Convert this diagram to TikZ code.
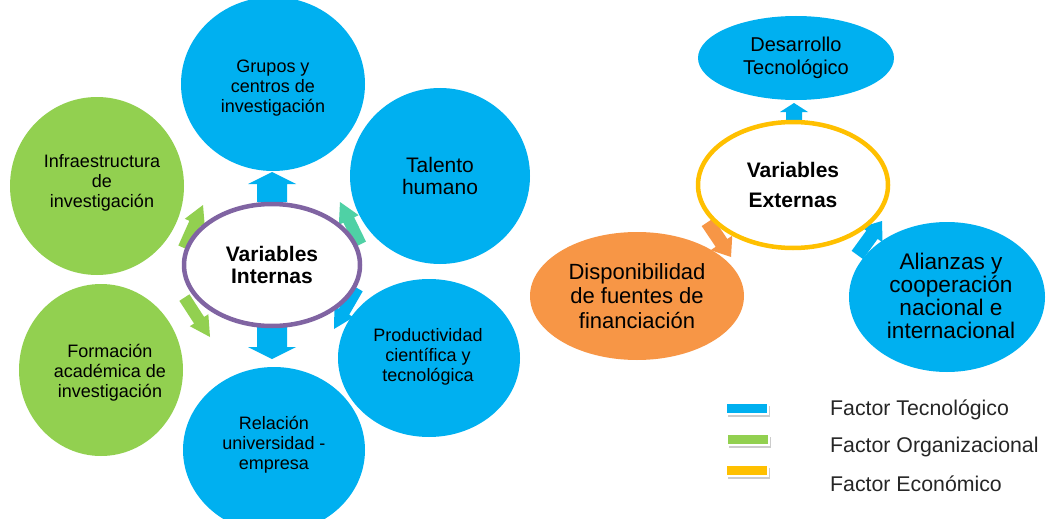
\documentclass[tikz,border=0pt]{standalone}
\usepackage{fontspec}
\setmainfont{Liberation Sans}
\usetikzlibrary{shapes.geometric,shadows}
\definecolor{cblue}{HTML}{00B0F0}
\definecolor{cgreen}{HTML}{92D050}
\definecolor{corange}{HTML}{F79646}
\definecolor{cyellow}{HTML}{FFC000}
\definecolor{cpurple}{HTML}{8064A2}
\definecolor{cteal}{HTML}{4FD1A5}
% color, tip x, tip y, angle, length, shaft half width, head length, head half width
\newcommand\barrow[8]{\fill[#1,shift={(#2,#3)},rotate=#4] (0,0) -- (-#7,#8) -- (-#7,#6) -- (-#5,#6) -- (-#5,-#6) -- (-#7,-#6) -- (-#7,-#8) -- cycle;}
\tikzset{
  bub/.style={ellipse, inner sep=0pt, align=center, text=black},
  txt/.style={inner sep=0pt, align=center, text=black},
  small/.style={font=\fontsize{18}{20}\selectfont},
  legsw/.style={rectangle, minimum width=42pt, minimum height=11pt, inner sep=0pt, draw=white, line width=1.2pt,
    drop shadow={shadow xshift=1.5pt, shadow yshift=-2.5pt, fill=gray!40, opacity=1}},
  legtxt/.style={anchor=west, inner sep=0pt, text=black!85, font=\fontsize{21.3}{23}\selectfont}
}
\begin{document}
\begin{tikzpicture}[x=1pt,y=-1pt]
\clip (0,0) rectangle (1047,519);
\fill[white] (0,0) rectangle (1047,519);
% outer bubbles, left cluster
\node[bub, fill=cblue, minimum width=184pt, minimum height=174pt] (grupos) at (273,84) {};
\node[txt, small] (gruposT) at (273,88) {Grupos y\\centros de\\investigación};
\node[bub, fill=cblue, minimum width=180pt, minimum height=176pt, font=\fontsize{21}{22}\selectfont] (talento) at (440,176) {Talento\\humano};
\node[bub, fill=cgreen, minimum width=174pt, minimum height=178pt] (infra) at (97,186) {};
\node[txt, small] (infraT) at (102,183) {Infraestructura\\de\\investigación};
\node[bub, fill=cgreen, minimum width=164pt, minimum height=172pt] (formacion) at (101,370) {};
\node[txt, small] (formacionT) at (110,373) {Formación\\académica de\\investigación};
\node[bub, small, fill=cblue, minimum width=182pt, minimum height=158pt] (produc) at (429,358) {};
\node[txt, small] (producT) at (428,357) {Productividad\\científica y\\tecnológica};
\node[bub, fill=cblue, minimum width=182pt, minimum height=166pt] (relacion) at (274,450) {};
\node[txt, small] (relacionT) at (274,445) {Relación\\universidad -\\empresa};
% outer bubbles, right cluster
\node[bub, fill=cblue, minimum width=196pt, minimum height=84pt, font=\fontsize{20}{23}\selectfont] (desarrollo) at (796,58) {Desarrollo\\Tecnológico};
\node[bub, fill=corange, minimum width=214pt, minimum height=128pt, font=\fontsize{22}{24.5}\selectfont] (dispon) at (637,296) {Disponibilidad\\de fuentes de\\financiación};
\node[bub, fill=cblue, minimum width=196pt, minimum height=150pt] (alianzas) at (947,297) {};
\node[txt, font=\fontsize{22.6}{23}\selectfont] (alianzasT) at (951,296) {Alianzas y\\cooperación\\nacional e\\internacional};
% arrows
\barrow{cblue}{272}{172}{90}{30}{15}{12}{24}
\barrow{cblue}{272}{359}{-90}{32}{15}{12}{24}
\barrow{cgreen}{203}{205}{66}{47}{6}{20}{11}
\barrow{cteal}{340}{202}{116}{47}{6}{20}{11}
\barrow{cblue}{334}{329}{-120}{47}{6}{20}{11}
\barrow{cgreen}{210}{337}{-57}{47}{6}{20}{11}
\barrow{cblue}{794}{103}{90}{19}{8}{9}{14}
\barrow{corange}{731}{257}{-56}{42}{7}{17}{13}
\barrow{cblue}{882}{221}{54}{42}{7}{17}{13}
% central ellipses
\node[bub, fill=white, draw=cpurple, line width=4.5pt, minimum width=176pt, minimum height=122pt, font=\fontsize{21}{22}\bfseries\selectfont] (internas) at (272,265) {Variables\\Internas};
\node[bub, fill=white, draw=cyellow, line width=4.5pt, minimum width=190pt, minimum height=126pt, font=\fontsize{21}{30}\bfseries\selectfont] (externas) at (793,185) {Variables\\Externas};
% legend
\node[legsw, fill=cblue] (sw1) at (747,408.5) {};
\node[legsw, fill=cgreen] (sw2) at (748,439.5) {};
\node[legsw, fill=cyellow] (sw3) at (747,470.5) {};
\node[legtxt] (lt1) at (830,410) {Factor Tecnológico};
\node[legtxt] (lt2) at (830,447) {Factor Organizacional};
\node[legtxt] (lt3) at (830,484) {Factor Económico};
\end{tikzpicture}
\end{document}
